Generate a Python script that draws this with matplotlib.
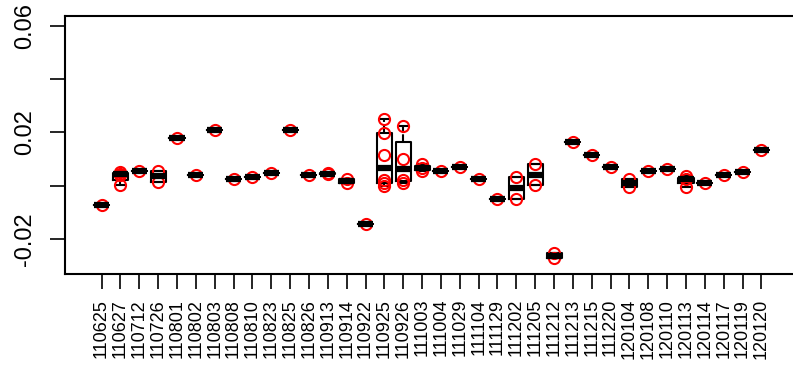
import matplotlib
matplotlib.use("Agg")
import matplotlib.pyplot as plt
import numpy as np

# dates (yymmdd) and the measured values for each date
dates = ["110625", "110627", "110712", "110726", "110801", "110802", "110803",
         "110808", "110810", "110823", "110825", "110826", "110913", "110914",
         "110922", "110925", "110926", "111003", "111004", "111029", "111104",
         "111129", "111202", "111205", "111212", "111213", "111215", "111220",
         "120104", "120108", "120110", "120113", "120114", "120117", "120119",
         "120120"]

values = [
    [-0.0071],
    [0.0052, 0.0044, 0.0041, 0.0003],
    [0.0057],
    [0.0056, 0.0014],
    [0.0180],
    [0.0040],
    [0.0210],
    [0.0024],
    [0.0032],
    [0.0048],
    [0.0210],
    [0.0040],
    [0.0047, 0.0043],
    [0.0027, 0.0012],
    [-0.0145],
    [0.0249, 0.0197, 0.0116, 0.0020, 0.0009, -0.0003],
    [0.0226, 0.0101, 0.0022, 0.0012],
    [0.0080, 0.0067, 0.0054],
    [0.0057],
    [0.0072],
    [0.0026],
    [-0.0050],
    [0.0033, -0.0050],
    [0.0080, 0.0003],
    [-0.0254, -0.0271],
    [0.0165],
    [0.0115],
    [0.0070],
    [0.0027, -0.0006],
    [0.0055],
    [0.0063],
    [0.0035, 0.0024, -0.0005],
    [0.0012],
    [0.0041],
    [0.0053],
    [0.0135],
]

yticks = [-0.02, 0.0, 0.02, 0.04, 0.06]
ytick_labels = ["-0.02", "", "0.02", "", "0.06"]


def fivenum(x):
    # Tukey hinges, same as R's boxplot
    x = np.sort(np.asarray(x))
    n = len(x)
    n4 = np.floor((n + 3) / 2) / 2
    d = np.array([1, n4, (n + 1) / 2, n + 1 - n4, n]) - 1
    return 0.5 * (x[np.floor(d).astype(int)] + x[np.ceil(d).astype(int)])


def box_stats(x, label):
    lo, q1, med, q3, hi = fivenum(x)
    iqr = q3 - q1
    inside = [v for v in x if q1 - 1.5 * iqr <= v <= q3 + 1.5 * iqr]
    return {"label": label, "med": med, "q1": q1, "q3": q3,
            "whislo": min(inside), "whishi": max(inside), "fliers": []}


plt.rcParams["font.family"] = ["Liberation Sans", "DejaVu Sans"]

fig = plt.figure(figsize=(7.93, 3.77), dpi=100)
ax = fig.add_axes([65 / 793, 103 / 377, 733 / 793, 258 / 377])

positions = np.arange(1, len(dates) + 1)
stats = [box_stats(v, d) for v, d in zip(values, dates)]
ax.bxp(stats, positions=positions, widths=0.8, showfliers=False,
       boxprops=dict(color="black", linewidth=1.5),
       medianprops=dict(color="black", linewidth=4.5, solid_capstyle="butt"),
       whiskerprops=dict(color="black", linewidth=1.5, linestyle="--"),
       capprops=dict(color="black", linewidth=1.5))

for pos, vals in zip(positions, values):
    ax.plot([pos] * len(vals), vals, "o", mfc="none", mec="red", ms=8, mew=1.5)

ax.set_xlim(-0.94, 37.94)
ax.set_ylim(-0.0332, 0.0638)

ax.set_xticks(positions)
ax.set_xticklabels(dates, rotation=90, fontsize=13)
ax.set_yticks(yticks)
ax.set_yticklabels(ytick_labels, rotation=90, va="center", fontsize=17)
ax.tick_params(axis="x", length=11, width=1.2, pad=7)
ax.tick_params(axis="y", length=11, width=1.2, pad=10)
for s in ax.spines.values():
    s.set_linewidth(1.5)

fig.savefig("out.png", dpi=100)
